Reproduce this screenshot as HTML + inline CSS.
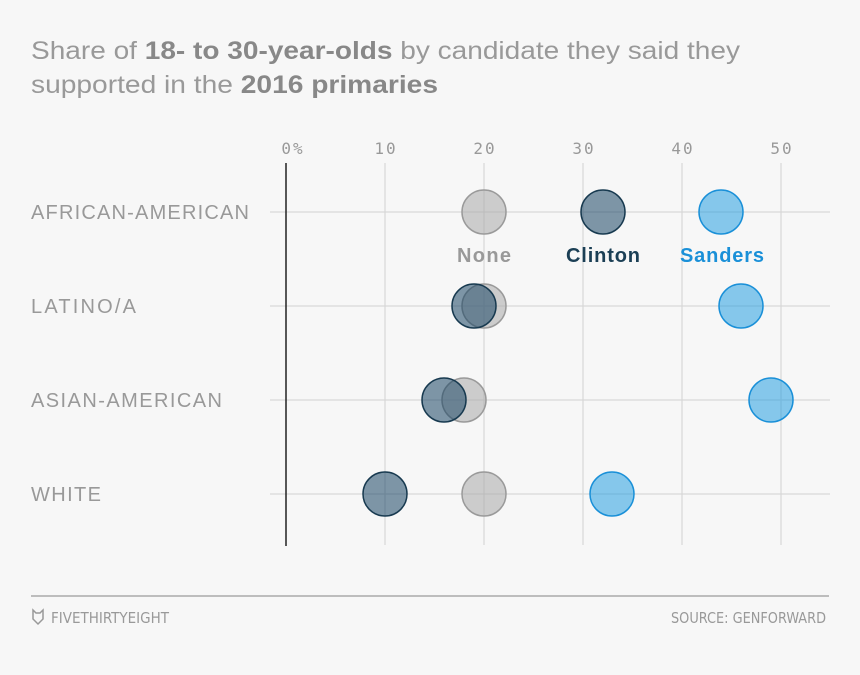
<!DOCTYPE html>
<html><head><meta charset="utf-8"><style>
html,body{margin:0;padding:0;background:#f7f7f7;}
body{width:860px;height:670px;overflow:hidden;font-family:"Liberation Sans","DejaVu Sans",sans-serif;}
</style></head><body>
<svg width="860" height="670" xmlns="http://www.w3.org/2000/svg">
<rect width="860" height="670" fill="#f7f7f7"/>
<text x="31" y="59" font-size="25" fill="#999" textLength="709" lengthAdjust="spacingAndGlyphs">Share of <tspan font-weight="bold" fill="#888">18- to 30-year-olds</tspan> by candidate they said they</text>
<text x="31" y="93" font-size="25" fill="#999" textLength="407" lengthAdjust="spacingAndGlyphs">supported in the <tspan font-weight="bold" fill="#888">2016 primaries</tspan></text>
<g font-family="'DejaVu Sans Mono','Liberation Mono',monospace" font-size="16" fill="#999" text-anchor="middle" letter-spacing="2">
<text x="293" y="154">0%</text><text x="386" y="154">10</text><text x="485" y="154">20</text><text x="584" y="154">30</text><text x="683" y="154">40</text><text x="782" y="154">50</text>
</g>
<g stroke="#d8d8d8" stroke-width="1.2">
<line x1="385" y1="163" x2="385" y2="545"/><line x1="484" y1="163" x2="484" y2="545"/><line x1="583" y1="163" x2="583" y2="545"/><line x1="682" y1="163" x2="682" y2="545"/><line x1="781" y1="163" x2="781" y2="545"/>
<line x1="270" y1="212" x2="830" y2="212"/><line x1="270" y1="306" x2="830" y2="306"/><line x1="270" y1="400" x2="830" y2="400"/><line x1="270" y1="494" x2="830" y2="494"/>
</g>
<line x1="286" y1="163" x2="286" y2="546" stroke="#222" stroke-width="1.5"/>
<g font-size="20" fill="#999" lengthAdjust="spacingAndGlyphs">
<text x="31" y="219" textLength="218">AFRICAN-AMERICAN</text><text x="31" y="313" textLength="105">LATINO/A</text><text x="31" y="407" textLength="191">ASIAN-AMERICAN</text><text x="31" y="501" textLength="70">WHITE</text>
</g>
<g stroke-width="1.5">
<g fill="rgba(170,170,170,0.55)" stroke="#9a9a9a">
<circle cx="484" cy="212" r="22"/><circle cx="484" cy="306" r="22"/><circle cx="464" cy="400" r="22"/><circle cx="484" cy="494" r="22"/>
</g>
<g fill="rgba(25,70,100,0.55)" stroke="#183a50">
<circle cx="603" cy="212" r="22"/><circle cx="474" cy="306" r="22"/><circle cx="444" cy="400" r="22"/><circle cx="385" cy="494" r="22"/>
</g>
<g fill="rgba(40,160,225,0.55)" stroke="#1a90d8">
<circle cx="721" cy="212" r="22"/><circle cx="741" cy="306" r="22"/><circle cx="771" cy="400" r="22"/><circle cx="612" cy="494" r="22"/>
</g>
</g>
<g font-size="20" font-weight="bold" lengthAdjust="spacingAndGlyphs">
<text x="457" y="262" fill="#999" textLength="54">None</text><text x="566" y="262" fill="#1b3f55" textLength="74">Clinton</text><text x="680" y="262" fill="#1a90d8" textLength="84">Sanders</text>
</g>
<line x1="31" y1="596" x2="829" y2="596" stroke="#aaa" stroke-width="1.5"/>
<path d="M33 610 L36 613 L40 613 L43 610 L43 619 L38 624 L33 619 Z" fill="none" stroke="#999" stroke-width="1.5"/>
<g font-family="'DejaVu Sans Condensed','Liberation Sans Narrow','Liberation Sans',sans-serif" font-size="15" fill="#999">
<text x="51" y="623" textLength="118" lengthAdjust="spacingAndGlyphs">FIVETHIRTYEIGHT</text>
<text x="826" y="623" text-anchor="end" textLength="155" lengthAdjust="spacingAndGlyphs">SOURCE: GENFORWARD</text>
</g>
</svg>
</body></html>
